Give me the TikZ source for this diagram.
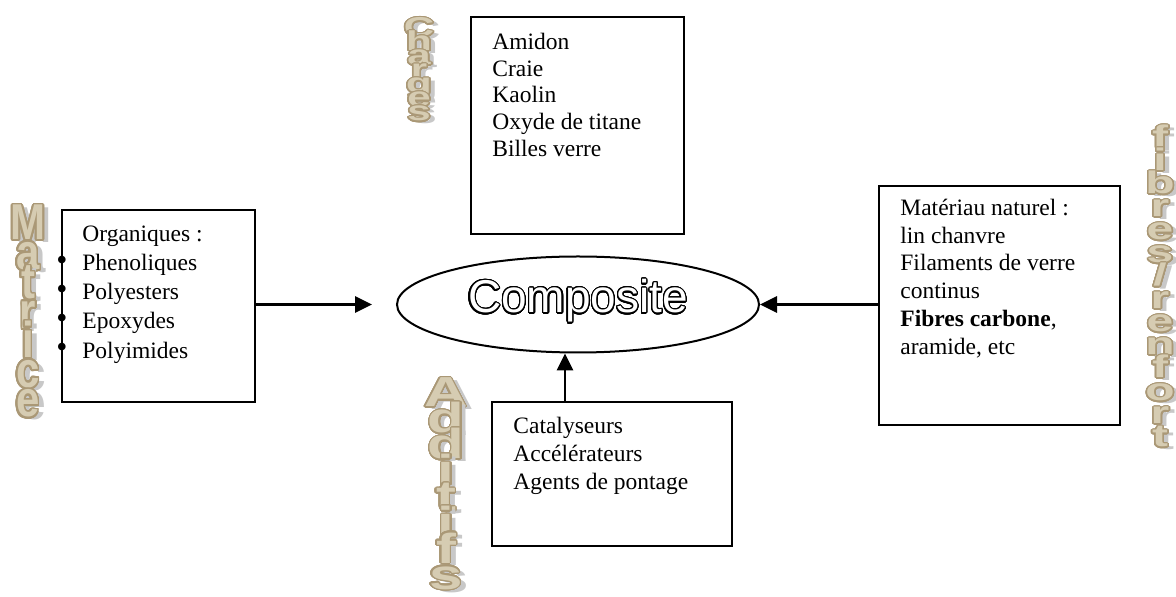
\documentclass[tikz,border=0pt]{standalone}
\usepackage{fontspec}
\setmainfont{Liberation Serif}
\setsansfont{Liberation Sans}
\usepackage{contour}
\usetikzlibrary{shapes.geometric,arrows.meta,calc}

\definecolor{wafill}{RGB}{214,204,178}
\definecolor{waedge}{RGB}{170,152,118}
\definecolor{washade}{RGB}{200,200,200}
\contournumber{32}
\newcommand\wsl{/}
\newcommand\listdot{\llap{\raisebox{0.2pt}{\scalebox{1.35}{\textbullet}}\hspace{7.5pt}}}

\tikzset{
  panel/.style={draw, line width=1pt, inner sep=0pt, anchor=north west},
  lines/.style={anchor=north west, inner sep=0pt, align=left,
                font=\fontsize{11.75}{#1}\selectfont},
  feed/.style={line width=1.4pt, -{Triangle[length=8.5pt,width=8pt]}},
  waglyph/.style={inner sep=0pt, anchor=base,
                  font=\sffamily\bfseries\fontsize{#1}{#1}\selectfont},
}

% one letter per line, WordArt-like: tan letters with a grey drop shadow
% #1 name, #2 x, #3 first baseline, #4 pitch, #5 size, #6 vertical scale, #7 letters
\newcommand\stackword[7]{%
  \foreach \ch [count=\k from 0] in {#7}{%
    \node[waglyph=#5, text=washade] (#1-s\k) at ($(#2,#3)+(6,3)+(0,\k*#4)$)
      {\scalebox{1}[#6]{\ch}};
    \node[waglyph=#5] (#1-\k) at ($(#2,#3)+(0,\k*#4)$)
      {\scalebox{1}[#6]{\contourlength{0.8pt}\contour{waedge}{\textcolor{wafill}{\ch}}}};
  }}

\begin{document}
\begin{tikzpicture}[x=0.5pt,y=-0.5pt]
\useasboundingbox (0,0) rectangle (1176,597);

% boxes
\node[panel, minimum width=106.5pt, minimum height=108.5pt] (charges) at (470,16) {};
\node[panel, minimum width=96.5pt, minimum height=96pt] (matrice) at (61,209) {};
\node[panel, minimum width=120.5pt, minimum height=119.5pt] (fibres) at (878,185) {};
\node[panel, minimum width=120pt, minimum height=72pt] (additifs) at (491,401) {};

% central ellipse
\node[ellipse, draw, line width=1pt, inner sep=0pt,
      minimum width=181pt, minimum height=48pt] (comp) at (578,304.5) {};
\node[font=\sffamily\fontsize{23}{23}\selectfont, anchor=base, inner sep=0pt]
  (comptxt) at (578,313) {\contourlength{0.6pt}\contour{black}{\textcolor{white}{Composite}}};

% box contents
\node[lines=13.4pt] (chgtxt) at (492,31)
  {\rule{0pt}{9pt}Amidon\\Craie\\Kaolin\\Oxyde de titane\\Billes verre};
\node[lines=14.6pt] (mattxt) at (82,223)
  {\rule{0pt}{9pt}Organiques :\\
   \listdot Phenoliques\\
   \listdot Polyesters\\
   \listdot Epoxydes\\
   \listdot Polyimides};
\node[lines=13.9pt] (fibtxt) at (900,197)
  {\rule{0pt}{9pt}Matériau naturel :\\lin chanvre\\Filaments de verre\\continus\\
   \textbf{Fibres carbone},\\aramide, etc};
\node[lines=14pt] (addtxt) at (513,415)
  {\rule{0pt}{9pt}Catalyseurs\\Accélérateurs\\Agents de pontage};

% connectors
\draw[feed] (matrice.east |- comp.west) -- ([xshift=-12pt]comp.west);
\draw[feed] (fibres.west |- comp.east) -- (comp.east);
\coordinate (addtip) at ([xshift=-6.5pt]comp.south);
\draw[feed] (addtip |- additifs.north) -- (addtip);

% vertical titles
\stackword{chg}{419}{37}{14}{21}{0.65}{C,h,a,r,g,e,s}
\stackword{mat}{28}{240}{29.5}{21}{1.2}{M,a,t,r,i,c,e}
\stackword{add}{446}{407}{26}{30}{0.7}{A,d,d,i,t,i,f,s}
\stackword{fib}{1160}{148}{23}{24}{0.65}{f,i,b,r,e,s,\wsl,r,e,n,f,o,r,t}
\end{tikzpicture}
\end{document}
